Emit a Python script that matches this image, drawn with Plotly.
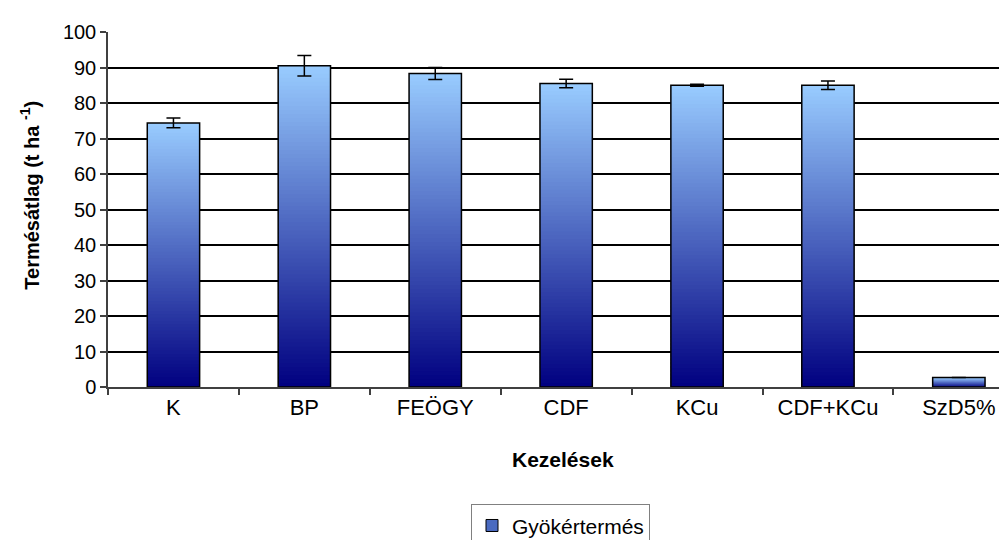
import plotly.graph_objects as go

# ---- data ----
categories = ["K", "BP", "FEÖGY", "CDF", "KCu", "CDF+KCu", "SzD5%"]
yields = [74.4, 90.5, 88.3, 85.5, 85.0, 85.0, 2.7]
errors = [1.4, 2.9, 1.7, 1.2, 0.3, 1.2, None]
series_name = "Gyökértermés"
x_title = "Kezelések"
y_title = "Termésátlag (t ha <sup>-1</sup>)"
y_ticks = [0, 10, 20, 30, 40, 50, 60, 70, 80, 90, 100]

# ---- layout geometry ----
W, H = 1007, 540
L, T, B, R = 100, 24, 156, 0
plot_w = W - L - R
plot_h = H - T - B
cat_px = 130.9
x_max = -0.5 + plot_w / cat_px

def px_to_paper_x(px):
    return (px - L) / plot_w

def px_to_paper_y(py):
    return (H - B - py) / plot_h

FONT = "Liberation Sans, Arial, sans-serif"

top_rgb = (153, 204, 255)
bot_rgb = (0, 0, 128)

fig = go.Figure()

N = 80
for i in range(N):
    t = (i + 0.5) / N
    col = "rgb({},{},{})".format(
        *[round(b + (tp - b) * t) for b, tp in zip(bot_rgb, top_rgb)]
    )
    bases = [v * i / N for v in yields]
    heights = [min(v * (i + 1.6) / N, v) - v * i / N for v in yields]
    fig.add_bar(
        x=categories, y=heights, base=bases, width=0.4,
        marker=dict(color=col, line=dict(width=0)),
        showlegend=False, hoverinfo="skip",
    )

# outline + error bars
fig.add_bar(
    x=categories, y=yields, width=0.4,
    marker=dict(color="rgba(0,0,0,0)", line=dict(color="black", width=1.5)),
    error_y=dict(type="data", array=errors, color="black", thickness=1.5, width=7),
    showlegend=False,
)

# legend entry
fig.add_bar(
    x=[None], y=[None], name=series_name,
    marker=dict(color="#4A6AC0", line=dict(color="black", width=1)),
    showlegend=True,
)

fig.update_layout(
    width=W, height=H,
    margin=dict(l=L, r=R, t=T, b=B, pad=0),
    barmode="overlay",
    plot_bgcolor="white", paper_bgcolor="white",
    font=dict(family=FONT, color="black"),
    showlegend=True,
    legend=dict(
        x=px_to_paper_x(463), y=px_to_paper_y(503),
        xanchor="left", yanchor="top",
        bordercolor="#808080", borderwidth=1,
        font=dict(size=21, family=FONT, color="black"),
        bgcolor="white",
    ),
    xaxis=dict(
        range=[-0.5, x_max],
        tickson="boundaries", ticks="outside", ticklen=6, tickcolor="#404040",
        tickwidth=1.5,
        showline=True, linecolor="#404040", linewidth=1.5,
        showgrid=False, zeroline=False,
        tickfont=dict(size=22, family=FONT, color="black"),
        fixedrange=True,
    ),
    yaxis=dict(
        range=[0, 100], tickvals=y_ticks,
        showgrid=True, gridcolor="black", gridwidth=1.5,
        showline=True, linecolor="#404040", linewidth=1.5,
        ticks="outside", ticklen=6, tickcolor="#404040", tickwidth=1.5,
        zeroline=False,
        tickfont=dict(size=20, family=FONT, color="black"),
        fixedrange=True,
    ),
    annotations=[
        dict(
            text=y_title, textangle=-90, showarrow=False,
            xref="paper", yref="paper",
            x=px_to_paper_x(22), y=px_to_paper_y(190),
            xanchor="center", yanchor="middle",
            font=dict(size=20, family=FONT, color="black", weight="bold"),
        ),
        dict(
            text=x_title, showarrow=False,
            xref="paper", yref="paper",
            x=px_to_paper_x(555), y=px_to_paper_y(458),
            xanchor="center", yanchor="middle",
            font=dict(size=21, family=FONT, color="black", weight="bold"),
        ),
    ],
)

fig.write_html("out.html")
